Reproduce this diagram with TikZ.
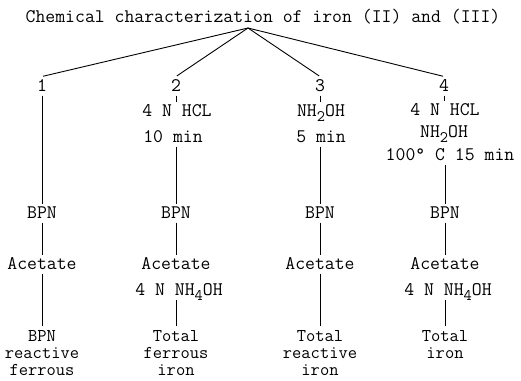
\documentclass[tikz,border=0pt]{standalone}
\usepackage{fontspec}
\newcommand\twfont{\ttfamily\fontsize{19.2}{16}\selectfont}
\newcommand\resfont{\ttfamily\fontsize{18}{17}\selectfont}
\newcommand\lowdigit[1]{\raisebox{-0.55ex}{\fontsize{16}{16}\selectfont #1}}
\begin{document}
\begin{tikzpicture}[x=1pt,y=-1pt,
  lbl/.style={font=\twfont, inner sep=0pt, outer ysep=4pt, text height=11pt, text depth=0pt},
  res/.style={font=\resfont, inner sep=0pt, outer ysep=4pt, align=center, anchor=north},
  link/.style={line width=0.9pt},
  branch/.style={line width=0.9pt, shorten >=1pt}]
\useasboundingbox (0,0) rectangle (521,380);

% title and the point where the four branches meet
\node[lbl] (title) at (263,17) {Chemical characterization of iron (II) and (III)};
\coordinate (apex) at (248,28);

% branch numbers
\node[lbl] (n1) at (42,86) {1};
\node[lbl] (n2) at (176,86) {2};
\node[lbl] (n3) at (320,86) {3};
\node[lbl] (n4) at (444,86) {4};

% column 1
\node[lbl] (bpn1) at (42,213) {BPN};
\node[lbl] (ac1) at (42,264) {Acetate};
\node[res] (res1) at (42,326) {BPN\\reactive\\ferrous};

% column 2
\node[lbl] (hcl2) at (177,111) {4 N HCL};
\node[lbl] (t2) at (173,137) {10 min};
\node[lbl] (bpn2) at (176,213) {BPN};
\node[lbl] (ac2) at (176,264) {Acetate};
\node[lbl] (nh2) at (179,290) {4 N NH\lowdigit{4}OH};
\node[res] (res2) at (176,326) {Total\\ferrous\\iron};

% column 3
\node[lbl] (nh3) at (321,111) {NH\lowdigit{2}OH};
\node[lbl] (t3) at (321,137) {5 min};
\node[lbl] (bpn3) at (320,213) {BPN};
\node[lbl] (ac3) at (320,264) {Acetate};
\node[res] (res3) at (320,326) {Total\\reactive\\iron};

% column 4
\node[lbl] (hcl4) at (445,110) {4 N HCL};
\node[lbl] (nh4) at (444,132) {NH\lowdigit{2}OH};
\node[lbl] (t4) at (450,155) {100° C 15 min};
\node[lbl] (bpn4) at (445,213) {BPN};
\node[lbl] (ac4) at (445,264) {Acetate};
\node[lbl] (nh4b) at (448,290) {4 N NH\lowdigit{4}OH};
\node[res] (res4) at (445,326) {Total\\iron};

% branches from the title
\foreach \n in {n1,n2,n3,n4}
  \draw[branch] (apex) -- (\n.north);

% column connectors
\draw[link] (n1.south) -- (bpn1.north);
\draw[link] (bpn1.south) -- (ac1.north);
\draw[link] (ac1.south) -- (res1.north);

\draw[link] (n2.south) -- (n2.south |- hcl2.north);
\draw[link] (bpn2.north |- t2.south) -- (bpn2.north);
\draw[link] (bpn2.south) -- (ac2.north);
\draw[link] (res2.north |- nh2.south) -- (res2.north);

\draw[link] (n3.south) -- (n3.south |- nh3.north);
\draw[link] (bpn3.north |- t3.south) -- (bpn3.north);
\draw[link] (bpn3.south) -- (ac3.north);
\draw[link] (ac3.south) -- (res3.north);

\draw[link] (n4.south) -- (n4.south |- hcl4.north);
\draw[link] (bpn4.north |- t4.south) -- (bpn4.north);
\draw[link] (bpn4.south) -- (ac4.north);
\draw[link] (res4.north |- nh4b.south) -- (res4.north);
\end{tikzpicture}
\end{document}
